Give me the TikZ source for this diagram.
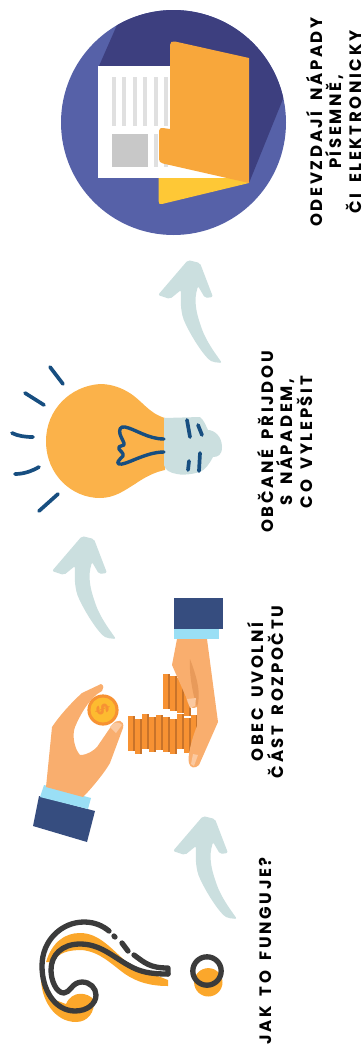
\documentclass[tikz,border=0pt]{standalone}
\usepackage{fontspec}
\setmainfont{Poppins}
\newfontfamily\labelfont[LetterSpace=16,WordSpace=1.7]{Poppins}
\definecolor{discBlue}{HTML}{5661A8}
\definecolor{discDark}{HTML}{3D3F7F}
\definecolor{folderOrange}{HTML}{F8A73B}
\definecolor{folderYellow}{HTML}{FEC836}
\definecolor{sheetGrey}{HTML}{E0E0E0}
\definecolor{photoGrey}{HTML}{C8C8C8}
\definecolor{bulbOrange}{HTML}{FBB24A}
\definecolor{paleTeal}{HTML}{CBDFDF}
\definecolor{inkBlue}{HTML}{174E80}
\definecolor{skin}{HTML}{F9AE6E}
\definecolor{skinDark}{HTML}{E89A5A}
\definecolor{skinPale}{HTML}{FBC9A0}
\definecolor{cuffLight}{HTML}{9ADFF5}
\definecolor{cuffDark}{HTML}{364D7F}
\definecolor{coinOrange}{HTML}{F79233}
\definecolor{coinDark}{HTML}{C8732A}
\definecolor{coinYellow}{HTML}{FDBB30}
\definecolor{markDark}{HTML}{3B3B3B}
\definecolor{markOrange}{HTML}{FBA72B}
\tikzset{
	steplabel/.style={rotate=90, align=center, font=\labelfont\bfseries\fontsize{16.5}{19.2}\selectfont, text=black, inner sep=0pt},
	inkline/.style={inkBlue, line width=3.7pt, line cap=round, line join=round},
	markline/.style={markDark, line width=5.3pt, line cap=round, line join=round}
}
\begin{document}
\begin{tikzpicture}[x=1pt, y=-1pt]
	\useasboundingbox (0, 0) rectangle (363, 1045);

	% Draw curved arrows
	\foreach \dx/\dy in {0/0, -106/276, 15/556} {
		\fill[paleTeal, shift={(\dx, \dy)}, rounded corners=2pt]
			(188, 260) -- (200, 263) -- (213, 297) -- (205, 298) -- (198, 286)
			.. controls (194, 300) and (195, 310) .. (203, 332)
			.. controls (209, 345) and (215, 353) .. (222, 363) -- (213, 362)
			.. controls (205, 358) and (190, 335) .. (183, 318)
			.. controls (180, 305) and (181, 298) .. (181, 290)
			-- (170, 299) -- (158, 295) -- cycle;
	}

	% Draw disc with folder
	\fill[discBlue] (173.5, 122.5) circle (112.5);
	\begin{scope}
		\clip (173.5, 122.5) circle (112.5);
		\fill[discDark] (117, 25) -- (99, 66) -- (170, 178) -- (249, 183) -- (283, 99) -- (300, 0) -- (117, 0) -- cycle;
	\end{scope}
	\fill[folderYellow] (158.5, 170) -- (158.5, 201) .. controls (158.5, 204) and (160, 204.5) .. (162, 204) -- (249, 183) -- (230, 170) -- cycle;
	\fill[white] (98, 66) rectangle (226, 178);
	\foreach \bx in {112, 122, 133, 143, 154, 164} {
		\fill[sheetGrey] (\bx, 77) rectangle ++(4, 49);
	}
	\foreach \bx in {154, 164} {
		\fill[sheetGrey] (\bx, 134) rectangle ++(4, 33);
	}
	\fill[photoGrey] (112, 134) rectangle (148, 167);
	\fill[folderOrange] (170, 129) -- (170, 45) .. controls (170, 42) and (172, 41) .. (175, 41.5)
		-- (249, 58) -- (249, 183) -- (163, 163.5) .. controls (160, 163) and (159, 161) .. (159, 159)
		-- (159, 131) .. controls (159, 128.5) and (161, 127.5) .. (163, 128) -- cycle;

	% Draw bulb
	\fill[bulbOrange] (165, 418) .. controls (148, 413) and (142, 400) .. (128, 392)
		.. controls (118, 386) and (108, 384) .. (100, 384)
		.. controls (70, 386) and (46, 410) .. (46, 441)
		.. controls (46, 475) and (72, 498) .. (100, 498)
		.. controls (115, 498) and (125, 490) .. (135, 484)
		.. controls (145, 477) and (155, 472) .. (165, 470) -- cycle;
	\fill[paleTeal] (164, 418) -- (200, 417) .. controls (204, 420) and (206, 426) .. (208, 430)
		.. controls (214, 430) and (222, 436) .. (222, 447)
		.. controls (222, 455) and (218, 457) .. (213, 457)
		.. controls (210, 463) and (205, 470) .. (200, 472)
		.. controls (190, 475) and (180, 475) .. (177, 474)
		.. controls (170, 473) and (165, 470) .. (164, 465) -- cycle;
	\draw[inkline, line width=3.4pt] (164, 439) .. controls (148, 439) and (135, 429) .. (125, 427)
		.. controls (120, 426) and (119, 430) .. (120, 434)
		.. controls (121, 438) and (125, 443) .. (124, 445)
		.. controls (122, 447) and (118, 445) .. (119, 449)
		.. controls (120, 451) and (124, 453) .. (123, 456)
		.. controls (119, 460) and (116, 463) .. (119, 464)
		.. controls (125, 466) and (145, 452) .. (164, 452);
	\draw[inkline] (50, 367) -- (63, 384);
	\draw[inkline] (25, 393) -- (44, 405);
	\draw[inkline] (12, 433) .. controls (18, 436) and (25, 437) .. (33, 437);
	\draw[inkline] (39, 467) .. controls (32, 471) and (24, 474) .. (15, 474);
	\draw[inkline] (58, 494) -- (39, 511);
	\draw[inkline] (187, 420) -- (190, 437);
	\draw[inkline] (198, 425) -- (202, 435);
	\draw[inkline] (189, 461) -- (188, 470);
	\draw[inkline] (200, 453) -- (199, 471);

	% Draw stacked coins
	\foreach \cx/\cy in {163/674, 170/676, 177/678, 184/681} {
		\fill[coinOrange] (\cx, \cy) rectangle ++(7, 35);
		\fill[coinDark] (\cx+5, \cy) rectangle ++(2, 35);
	}
	\foreach \cx/\cy in {128/716, 135/719, 142/714, 149/717, 156/715, 163/717, 170/719, 177/714, 184/718, 191/715} {
		\fill[coinOrange] (\cx, \cy) rectangle ++(7, 35);
		\fill[coinDark] (\cx+5, \cy) rectangle ++(2, 35);
	}

	% Draw giving hand
	\fill[cuffDark] (174, 598) rectangle (223, 629);
	\fill[cuffLight] (174, 629) rectangle (219, 639);
	\fill[skin] (177, 639) -- (207, 639) -- (218, 722) -- (199, 765)
		.. controls (195, 769) and (190, 768) .. (189, 763)
		.. controls (187, 757) and (192, 738) .. (197, 726)
		-- (197, 707) .. controls (190, 710) and (188, 705) .. (186, 697)
		-- (172, 665) -- cycle;
	\fill[skinDark] (190, 659) .. controls (198, 680) and (201, 695) .. (197, 707)
		.. controls (193, 695) and (189, 675) .. (190, 659) -- cycle;
	\fill[skinPale] (187, 699) -- (196, 698) -- (195, 706) -- (190, 708) -- cycle;
	\fill[skinPale] (193, 754) -- (198, 755) -- (194, 766) -- (191, 764) -- cycle;

	% Draw hand with coin
	\fill[cuffDark] (39, 796) -- (95, 811) -- (87, 842) -- (33, 826) -- cycle;
	\fill[cuffLight] (44, 785) -- (91, 798) -- (88, 809) -- (40, 797) -- cycle;
	\fill[skin] (46, 787) -- (52, 727) .. controls (60, 715) and (72, 702) .. (82, 693)
		-- (101, 684) .. controls (104, 685) and (104, 689) .. (102, 691)
		.. controls (90, 697) and (80, 715) .. (75, 727)
		.. controls (72, 735) and (74, 748) .. (80, 755)
		.. controls (88, 755) and (94, 750) .. (97, 747)
		-- (112, 725) .. controls (117, 718) and (125, 720) .. (123, 728)
		-- (110, 763) .. controls (105, 772) and (92, 788) .. (83, 797) -- cycle;
	\fill[coinOrange] (103, 710) circle (15.6);
	\fill[coinYellow] (103, 710) circle (12.5);
	\node[text=coinOrange, font=\bfseries\fontsize{17}{17}\selectfont, rotate=-70, inner sep=0pt] (coinsign) at (103, 710) {\$};
	\fill[skinPale] (110, 727) .. controls (113, 722) and (119, 721) .. (122, 725) -- (116, 733) -- cycle;

	% Draw question mark
	\fill[markOrange] (168, 980) -- (168, 986) .. controls (150, 986) and (137, 982) .. (125, 974)
		.. controls (110, 963) and (100, 952) .. (82, 950)
		.. controls (70, 950) and (58, 952) .. (54, 962) -- (46, 962)
		.. controls (52, 942) and (65, 933) .. (80, 933)
		.. controls (100, 933) and (112, 950) .. (130, 965) -- cycle;
	\fill[markOrange] (41, 975) .. controls (40, 1000) and (55, 1022) .. (76, 1022)
		.. controls (88, 1022) and (95, 1012) .. (94, 1000)
		.. controls (88, 992) and (72, 990) .. (66, 1004) -- (50, 998) -- cycle;
	\draw[markline] (168, 974) .. controls (150, 974) and (140, 972) .. (128, 965)
		.. controls (112, 956) and (100, 944) .. (80, 944)
		.. controls (62, 944) and (51, 955) .. (51, 970)
		.. controls (51, 980) and (56, 993) .. (64, 993)
		.. controls (70, 993) and (72, 982) .. (82, 982)
		.. controls (90, 982) and (96, 988) .. (96, 995)
		.. controls (96, 1004) and (87, 1011) .. (75, 1011)
		.. controls (55, 1011) and (42, 990) .. (42, 966)
		.. controls (42, 940) and (62, 922) .. (84, 922)
		.. controls (95, 922) and (103, 926) .. (109, 931);
	\draw[markline] (114, 936) -- (115, 937);
	\draw[markline] (122, 943) -- (128, 951);
	\draw[markline] (134, 955) .. controls (145, 963) and (150, 968) .. (168, 968) -- (168, 974);
	\fill[markOrange] (208.3, 982.3) circle (14.2);
	\draw[markline] (207, 971) circle (14.2);

	% Draw labels
	\node[steplabel] (stepone) at (265, 951) {JAK TO FUNGUJE?};
	\node[steplabel] (steptwo) at (265.5, 692) {OBEC UVOLNÍ\\ČÁST ROZPOČTU};
	\node[steplabel] (stepthree) at (285, 442) {OBČANÉ PŘIJDOU\\S NÁPADEM,\\CO VYLEPŠIT};
	\node[steplabel] (stepfour) at (334, 122) {ODEVZDAJÍ NÁPADY\\PÍSEMNĚ,\\ČI ELEKTRONICKY};
\end{tikzpicture}
\end{document}
